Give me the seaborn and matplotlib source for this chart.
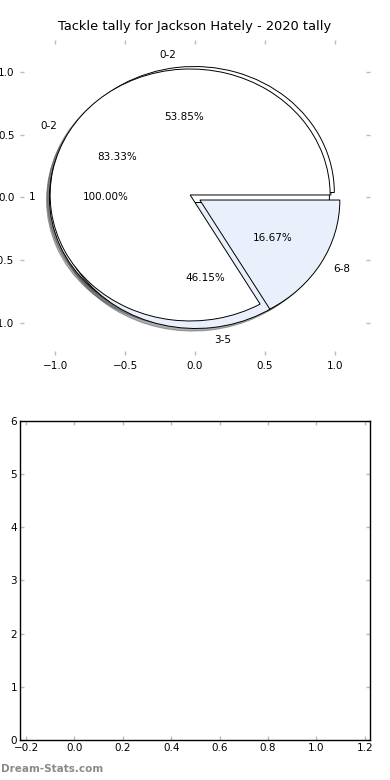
import matplotlib
matplotlib.use("Agg")
import matplotlib.pyplot as plt
import seaborn as sns

# Datos del gráfico
etiquetas_a = ["0-2", "3-5"]
valores_a = [7, 6]
etiquetas_b = ["0-2", "6-8"]
valores_b = [5, 1]
etiquetas_c = ["1"]
valores_c = [1]

titulo = "Tackle tally for Jackson Hately - 2020 tally"
ticks_pie = [-1.0, -0.5, 0.0, 0.5, 1.0]
ticks_x_bar = [-0.2, 0.0, 0.2, 0.4, 0.6, 0.8, 1.0, 1.2]
ticks_y_bar = [0, 1, 2, 3, 4, 5, 6]

sns.set_style("white")
plt.rcParams["font.family"] = ["DejaVu Sans"]
plt.rcParams["text.color"] = "black"
plt.rcParams["xtick.labelcolor"] = "black"
plt.rcParams["ytick.labelcolor"] = "black"

colores = ["#ffffff", "#e9effb"]
gris = "#bbbbbb"

fig = plt.figure(figsize=(3.9, 7.8), dpi=100)
ax1 = fig.add_axes([0.0513, 0.5449, 0.8974, 0.4038])
ax2 = fig.add_axes([0.0513, 0.0513, 0.8974, 0.409])

cuna = {"edgecolor": "black", "linewidth": 0.7}
texto = {"fontsize": 7.5, "color": "black"}

# Tres tortas superpuestas en el mismo eje
for vals, etqs in [(valores_c, etiquetas_c), (valores_a, etiquetas_a), (valores_b, etiquetas_b)]:
    ax1.pie(vals, labels=etqs, explode=[0.04] * len(vals),
            shadow={"ox": -0.015, "oy": -0.015, "alpha": 0.45},
            autopct="%1.2f%%", colors=colores[:len(vals)],
            wedgeprops=cuna, textprops=texto, frame=False)

ax1.set_aspect("auto")
ax1.set_frame_on(False)
ax1.set_xlim(-1.25, 1.25)
ax1.set_ylim(-1.25, 1.25)
ax1.set_xticks(ticks_pie)
ax1.set_yticks(ticks_pie)
ax1.tick_params(axis="both", which="both", direction="in", length=3, width=1,
                color=gris, labelsize=7.5, top=True, right=True,
                bottom=True, left=True, pad=4)
ax1.set_title(titulo, fontsize=9.4, pad=7, color="black")

# Panel inferior vacío
ax2.set_xlim(-0.225, 1.222)
ax2.set_ylim(0, 6)
ax2.set_xticks(ticks_x_bar)
ax2.set_yticks(ticks_y_bar)
ax2.tick_params(axis="both", which="both", direction="in", length=3, width=1,
                color=gris, labelsize=7.5, top=True, right=True,
                bottom=True, left=True, pad=2)
for s in ax2.spines.values():
    s.set_visible(True)
    s.set_color("black")
    s.set_linewidth(1)

fig.text(0.003, 0.008, "Dream-Stats.com", fontsize=7.5, color="#8a8a8a",
         fontweight="bold", ha="left", va="bottom")

fig.savefig("out.png", dpi=100)
plt.close()
